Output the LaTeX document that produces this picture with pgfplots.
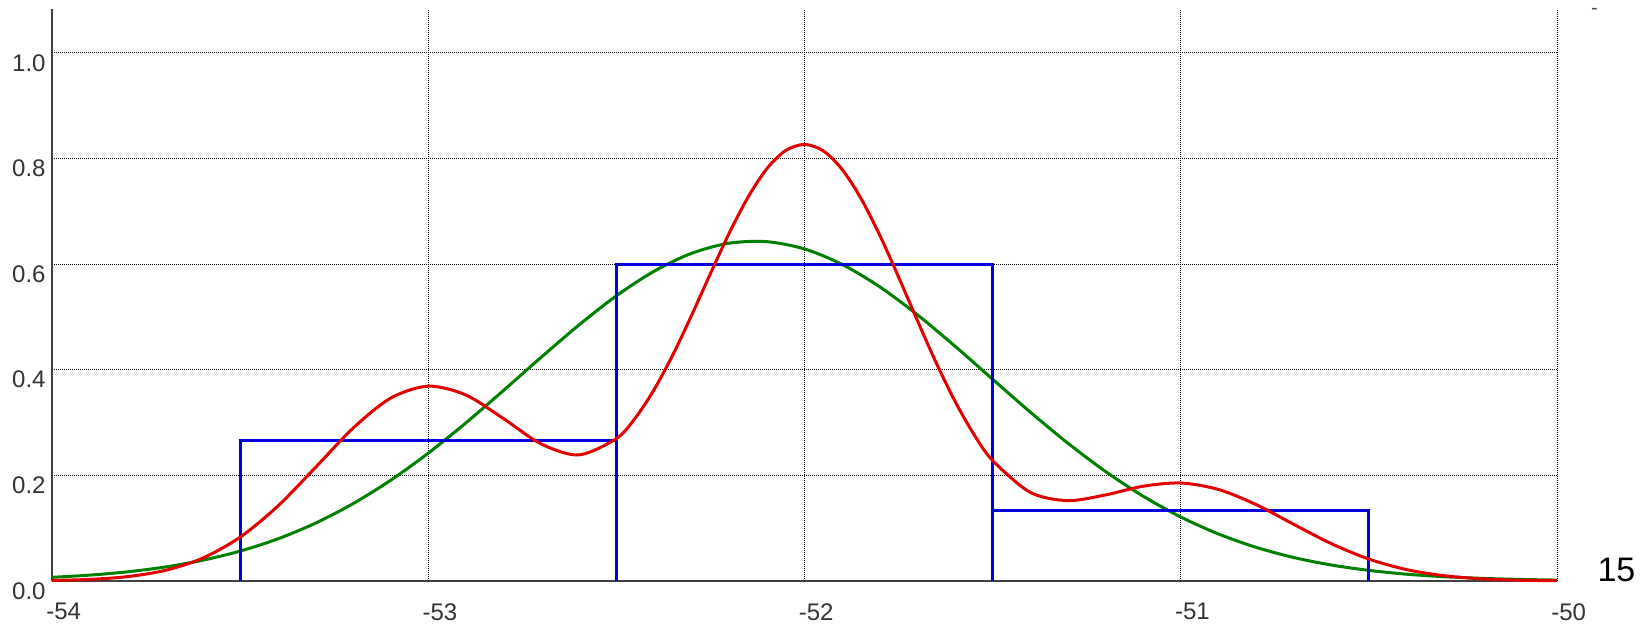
\documentclass[border=0pt]{standalone}
\usepackage{fontspec}
\setmainfont{Liberation Sans}
\usepackage{pgfplots}
\pgfplotsset{compat=1.18}
\definecolor{kdered}{RGB}{226,0,0}
\definecolor{normgreen}{RGB}{0,128,0}
\definecolor{histblue}{RGB}{0,0,220}
\begin{document}
\begin{tikzpicture}
\useasboundingbox (-26pt,-21.5pt) rectangle (798.5pt,290.5pt);
\begin{axis}[
  at={(0,0)}, anchor=south west,
  scale only axis, width=752.5pt, height=286pt,
  xmin=-54, xmax=-50, ymin=0, ymax=1.0833,
  axis x line=bottom, axis y line=left,
  axis line style={-, draw=black!75, line width=0.9pt},
  major tick length=0pt,
  xtick={-54,-53,-52,-51,-50}, xticklabels={-54,-53,-52,-51,-50},
  ytick={0,0.2,0.4,0.6,0.8,1.0}, yticklabels={0.0,0.2,0.4,0.6,0.8,1.0},
  grid=major,
  major grid style={black, line width=0.5pt, dash pattern=on 0.5pt off 0.5pt},
  ticklabel style={font=\fontsize{12}{12}\selectfont, text=black!80, inner sep=0pt},
  xticklabel style={anchor=north west, xshift=-3pt, yshift=-11pt},
  yticklabel style={anchor=north east, xshift=-3pt, yshift=-0.5pt},
  clip=false,
]
% normal fit
\addplot[normgreen, line width=1.5pt, smooth] coordinates {
(-54,0.0069) (-53.9,0.0111) (-53.8,0.0173) (-53.7,0.0264) (-53.6,0.0392)
(-53.5,0.0566) (-53.4,0.0797) (-53.3,0.1094) (-53.2,0.1464) (-53.1,0.1907)
(-53.0,0.2421) (-52.9,0.2994) (-52.8,0.3608) (-52.7,0.4236) (-52.6,0.4845)
(-52.5,0.5401) (-52.4,0.5865) (-52.3,0.6206) (-52.2,0.6398) (-52.1,0.6426)
(-52.0,0.6289) (-51.9,0.5996) (-51.8,0.5571) (-51.7,0.5042) (-51.6,0.4447)
(-51.5,0.3821) (-51.4,0.3199) (-51.3,0.2610) (-51.2,0.2074) (-51.1,0.1606)
(-51.0,0.1212) (-50.9,0.0891) (-50.8,0.0638) (-50.7,0.0445) (-50.6,0.0303)
(-50.5,0.0201) (-50.4,0.0129) (-50.3,0.0081) (-50.2,0.0050) (-50.1,0.0030)
(-50.0,0.0017)};
% histogram
\addplot[histblue, line width=1.5pt] coordinates {
(-53.5,0) (-53.5,0.2667) (-52.5,0.2667) (-52.5,0) (-52.5,0.6) (-51.5,0.6)
(-51.5,0) (-51.5,0.1333) (-50.5,0.1333) (-50.5,0)};
% kernel density
\addplot[kdered, line width=1.5pt, smooth] coordinates {
(-54,0.0010) (-53.9,0.0030) (-53.8,0.0082) (-53.7,0.0199) (-53.6,0.0431)
(-53.5,0.0830) (-53.4,0.1417) (-53.3,0.2148) (-53.2,0.2893) (-53.1,0.3463)
(-53.0,0.3690) (-52.9,0.3523) (-52.8,0.3075) (-52.7,0.2596) (-52.6,0.2388)
(-52.5,0.2697) (-52.45,0.3084) (-52.4,0.3620) (-52.35,0.4282) (-52.3,0.5033)
(-52.25,0.5822) (-52.2,0.6589) (-52.15,0.7270) (-52.1,0.7809) (-52.05,0.8152)
(-52.0,0.8268) (-51.95,0.8146) (-51.9,0.7795) (-51.85,0.7246) (-51.8,0.6549)
(-51.75,0.5757) (-51.7,0.4933) (-51.65,0.4133) (-51.6,0.3404) (-51.55,0.2780)
(-51.5,0.2282) (-51.4,0.1679) (-51.3,0.1522) (-51.2,0.1630) (-51.1,0.1795)
(-51.0,0.1856) (-50.9,0.1734) (-50.8,0.1448) (-50.7,0.1074) (-50.6,0.0708)
(-50.5,0.0415) (-50.4,0.0216) (-50.3,0.0100) (-50.2,0.0041) (-50.1,0.0015)
(-50.0,0.0005)};
\node[font=\fontsize{17}{17}\selectfont, inner sep=0pt] at (rel axis cs:1.0395,0.0184) {15};
\node[font=\fontsize{10}{10}\selectfont, text=black!70, inner sep=0pt] at (rel axis cs:1.0249,0.996) {-};
\end{axis}
\end{tikzpicture}
\end{document}
